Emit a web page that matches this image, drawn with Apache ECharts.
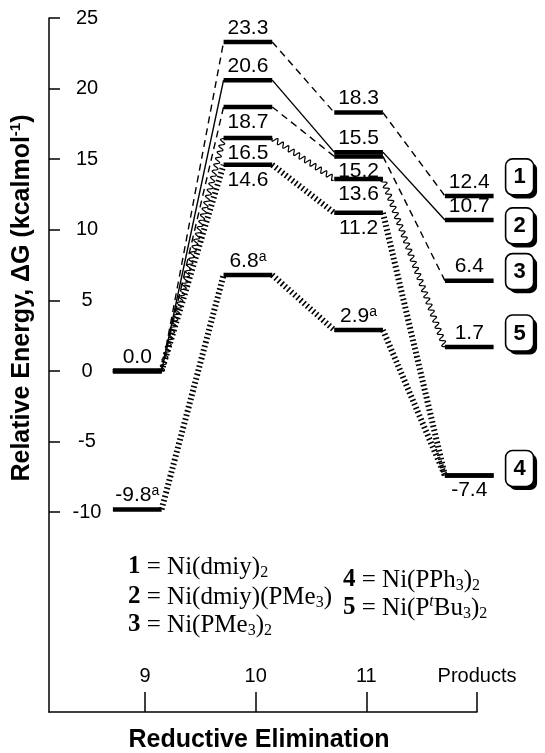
<!DOCTYPE html>
<html>
<head>
<meta charset="utf-8">
<script src="https://cdn.jsdelivr.net/npm/echarts@6/dist/echarts.min.js"></script>
<style>
  html, body { margin: 0; padding: 0; background: #fff; }
  #chart { width: 545px; height: 753px; }
</style>
</head>
<body>
<div id="chart"></div>
<script>
// stages along the reaction coordinate
const stages = ['9', '10', '11', 'Products'];
const yTicks = [-10, -5, 0, 5, 10, 15, 20, 25];

// relative energies (kcal/mol) for each catalyst
const energy1 = [0.0, 23.3, 18.3, 12.4];   // Ni(dmiy)2
const energy2 = [0.0, 20.6, 15.5, 10.7];   // Ni(dmiy)(PMe3)
const energy3 = [0.0, 18.7, 15.2, 6.4];    // Ni(PMe3)2
const energy4 = [0.0, 14.6, 11.2, -7.4];   // Ni(PPh3)2
const energy4a = [-9.8, 6.8, 2.9, -7.4];   // Ni(PPh3)2, footnote a
const energy5 = [0.0, 16.5, 13.6, 1.7];    // Ni(PtBu3)2

const SANS = 'Liberation Sans, Arial, sans-serif';
const SERIF = 'Liberation Serif, Times New Roman, serif';
const BAR_SHIFT = -0.07;   // levels sit a bit left of the tick
const BAR_HALF = 0.22;

// how every pathway is drawn
const paths = [
  { values: energy1, line: 'dashed', labels: ['top', 'top', 'top', 'top'], tag: '1', tagDy: -19 },
  { values: energy2, line: 'solid', labels: [null, 'top', 'top', 'top'], tag: '2', tagDy: 6 },
  { values: energy3, line: 'dashed', labels: [null, 'bottom', 'bottom', 'top'], tag: '3', tagDy: -9 },
  { values: energy5, line: 'wavy', labels: [null, 'bottom', 'bottom', 'top'], tag: '5', tagDy: -14 },
  { values: energy4, line: 'hatch', labels: [null, 'bottom', 'bottom', 'bottom'], tag: '4', tagDy: -7 },
  { values: energy4a, line: 'hatch', labels: ['top', 'top', 'top', null], sup: 'a' }
];

function wavePoints(p0, p1, amp, wl) {
  const dx = p1[0] - p0[0], dy = p1[1] - p0[1];
  const len = Math.hypot(dx, dy);
  const nx = -dy / len, ny = dx / len;
  const n = Math.max(2, Math.round(len / wl * 12));
  const pts = [];
  for (let k = 0; k <= n; k++) {
    const t = k / n;
    const off = amp * Math.sin(2 * Math.PI * t * len / wl);
    pts.push([p0[0] + dx * t + nx * off, p0[1] + dy * t + ny * off]);
  }
  return pts;
}

function connector(kind, p0, p1) {
  if (kind === 'wavy') {
    return { type: 'polyline', z2: 1, shape: { points: wavePoints(p0, p1, 2.6, 6.5) },
      style: { stroke: '#000', lineWidth: 1.2, fill: null } };
  }
  const style = { stroke: '#000', lineWidth: 1.4 };
  if (kind === 'dashed') style.lineDash = [7, 5];
  if (kind === 'hatch') { style.lineWidth = 6; style.lineDash = [1.6, 2.6]; }
  return { type: 'line', z2: 1, shape: { x1: p0[0], y1: p0[1], x2: p1[0], y2: p1[1] }, style };
}

function makeRender(cfg) {
  return function (params, api) {
    const i = params.dataIndex;
    const s = api.value(0), v = api.value(1);
    const left = api.coord([s + BAR_SHIFT - BAR_HALF, v]);
    const right = api.coord([s + BAR_SHIFT + BAR_HALF, v]);
    const mid = api.coord([s + BAR_SHIFT, v]);
    const children = [];
    if (i > 0) {
      const pv = cfg.values[i - 1];
      const prevRight = api.coord([s - 1 + BAR_SHIFT + BAR_HALF, pv]);
      children.push(connector(cfg.line, prevRight, left));
    }
    children.push({ type: 'line', z2: 10, shape: { x1: left[0], y1: left[1], x2: right[0], y2: right[1] },
      style: { stroke: '#000', lineWidth: 4.5 } });
    const pos = cfg.labels[i];
    if (pos) {
      const txt = v.toFixed(1);
      children.push({ type: 'text', z2: 20, x: mid[0], y: mid[1] + (pos === 'top' ? -14 : 15),
        style: {
          text: cfg.sup ? '{m|' + txt + '}{s|' + cfg.sup + '}' : txt,
          fill: '#000', fontSize: 21, fontFamily: SANS, align: 'center', verticalAlign: 'middle',
          rich: {
            m: { fontSize: 21, fontFamily: SANS, lineHeight: 22 },
            s: { fontSize: 14, fontFamily: SANS, lineHeight: 11, verticalAlign: 'top' }
          }
        } });
    }
    if (i === stages.length - 1 && cfg.tag) {
      const bx = right[0] + 12, by = right[1] + cfg.tagDy - 18;
      children.push({ type: 'rect', z2: 20, shape: { x: bx + 3.5, y: by + 3.5, width: 28, height: 36, r: 7 },
        style: { fill: '#000' } });
      children.push({ type: 'rect', z2: 21, shape: { x: bx, y: by, width: 28, height: 36, r: 7 },
        style: { fill: '#fff', stroke: '#000', lineWidth: 1.6 } });
      children.push({ type: 'text', z2: 22, x: bx + 14, y: by + 18.5,
        style: { text: cfg.tag, fill: '#000', fontSize: 22, fontWeight: 'bold', fontFamily: SANS,
          align: 'center', verticalAlign: 'middle' } });
    }
    return { type: 'group', children };
  };
}

const axisLineStyle = { color: '#000', width: 1.5 };
const stageTicks = stages.map((_, i) => i);

const serifRich = {
  b: { fontFamily: SERIF, fontSize: 25, fontWeight: 'bold', lineHeight: 28 },
  n: { fontFamily: SERIF, fontSize: 25, lineHeight: 28 },
  sub: { fontFamily: SERIF, fontSize: 16, lineHeight: 13, verticalAlign: 'bottom' },
  it: { fontFamily: SERIF, fontSize: 16, fontStyle: 'italic', lineHeight: 13, verticalAlign: 'top' }
};
function legendLine(x, y, text) {
  return { type: 'text', x, y, style: { text, rich: serifRich, fontFamily: SERIF, fontSize: 25,
    fill: '#000', align: 'left', verticalAlign: 'middle' } };
}

const chart = echarts.init(document.getElementById('chart'));
chart.setOption({
  backgroundColor: '#fff',
  animation: false,
  grid: { left: 49, right: 68, top: 18, bottom: 41 },
  xAxis: {
    type: 'value', min: -0.8675, max: 3,
    axisLine: { show: true, onZero: false, lineStyle: axisLineStyle },
    axisTick: { show: true, inside: true, length: 20, customValues: stageTicks, lineStyle: axisLineStyle },
    axisLabel: { inside: true, margin: 26, customValues: stageTicks, formatter: v => stages[v],
      color: '#000', fontSize: 20, fontFamily: SANS },
    splitLine: { show: false }
  },
  yAxis: {
    type: 'value', min: -24.15, max: 25,
    axisLine: { show: true, onZero: false, lineStyle: axisLineStyle },
    axisTick: { show: true, inside: true, length: 11, customValues: yTicks, lineStyle: axisLineStyle },
    axisLabel: { inside: true, margin: 38, align: 'center', customValues: yTicks,
      color: '#000', fontSize: 20, fontFamily: SANS },
    splitLine: { show: false }
  },
  series: paths.map(cfg => ({
    type: 'custom',
    clip: false,
    renderItem: makeRender(cfg),
    data: cfg.values.map((v, i) => [i, v])
  })),
  graphic: [
    { type: 'text', x: 22, y: 298, rotation: Math.PI / 2,
      style: { text: '{m|Relative Energy, ΔG (kcalmol}{s|-1}{m|)}', fill: '#000',
        align: 'center', verticalAlign: 'middle', fontFamily: SANS, fontSize: 25, fontWeight: 'bold',
        rich: {
          m: { fontFamily: SANS, fontSize: 25, fontWeight: 'bold', lineHeight: 28 },
          s: { fontFamily: SANS, fontSize: 15, fontWeight: 'bold', lineHeight: 13, verticalAlign: 'top' }
        } } },
    { type: 'text', x: 259, y: 740,
      style: { text: 'Reductive Elimination', fill: '#000', fontFamily: SANS, fontSize: 25,
        fontWeight: 'bold', align: 'center', verticalAlign: 'middle' } },
    legendLine(128, 567, '{b|1} {n|= Ni(dmiy)}{sub|2}'),
    legendLine(128, 597, '{b|2} {n|= Ni(dmiy)(PMe}{sub|3}{n|)}'),
    legendLine(128, 625, '{b|3} {n|= Ni(PMe}{sub|3}{n|)}{sub|2}'),
    legendLine(343, 580, '{b|4} {n|= Ni(PPh}{sub|3}{n|)}{sub|2}'),
    legendLine(343, 608, '{b|5} {n|= Ni(P}{it|t}{n|Bu}{sub|3}{n|)}{sub|2}')
  ]
});
</script>
</body>
</html>
